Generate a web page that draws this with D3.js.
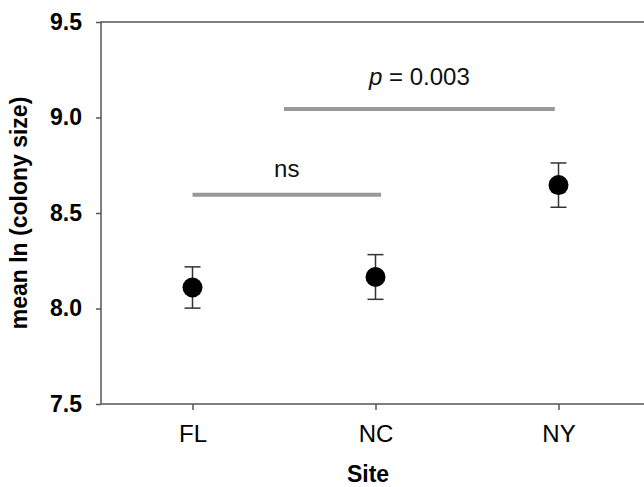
<!DOCTYPE html>
<html>
<head>
<meta charset="utf-8">
<script src="https://cdn.jsdelivr.net/npm/d3@7"></script>
<style>
  body { margin: 0; background: #fff; }
  svg { display: block; font-family: "Liberation Sans", Arial, sans-serif; }
</style>
</head>
<body>
<div id="chart"></div>
<script>
// data
const sites = ["FL", "NC", "NY"];
const means = [8.11, 8.165, 8.646];
const errors = [0.108, 0.117, 0.116];
const yTicks = [7.5, 8.0, 8.5, 9.0, 9.5];

// significance brackets: from index, to index, y value, label
const brackets = [
    { x0: 0, x1: 1.03, y: 8.595, label: "ns" },
    { x0: 0.5, x1: 1.98, y: 9.045, label: "p = 0.003" }
];

const width = 644, height = 487;
const plotLeft = 101, plotRight = 650, plotTop = 22, plotBottom = 404;
const labelGap = [18, 24]; // text baseline above each bracket line

const svg = d3.select("#chart").append("svg")
    .attr("width", width)
    .attr("height", height);

const x = d3.scaleLinear().domain([-0.5, 2.5]).range([plotLeft, plotRight]);
const y = d3.scaleLinear().domain([7.5, 9.5]).range([plotBottom, plotTop]);

const axisColor = "#555";

// frame
svg.append("rect")
    .attr("x", plotLeft)
    .attr("y", plotTop)
    .attr("width", plotRight - plotLeft)
    .attr("height", plotBottom - plotTop)
    .attr("fill", "none")
    .attr("stroke", axisColor)
    .attr("stroke-width", 1.5);

// y axis
const yAxis = svg.append("g")
    .attr("transform", `translate(${plotLeft},0)`)
    .call(d3.axisLeft(y).tickValues(yTicks).tickFormat(d3.format(".1f")).tickSize(5).tickPadding(14));
yAxis.select(".domain").remove();
yAxis.selectAll("line").attr("stroke", axisColor).attr("stroke-width", 1.5);
yAxis.selectAll("text")
    .attr("font-family", "Liberation Sans, Arial, sans-serif")
    .attr("font-size", 23)
    .attr("font-weight", "bold")
    .attr("fill", "#000");

// x axis
const xAxis = svg.append("g")
    .attr("transform", `translate(0,${plotBottom})`)
    .call(d3.axisBottom(x).tickValues(d3.range(sites.length)).tickFormat(i => sites[i]).tickSize(6).tickPadding(15));
xAxis.select(".domain").remove();
xAxis.selectAll("line").attr("stroke", axisColor).attr("stroke-width", 1.5);
xAxis.selectAll("text")
    .attr("font-family", "Liberation Sans, Arial, sans-serif")
    .attr("font-size", 24)
    .attr("fill", "#000");

// axis titles
svg.append("text")
    .attr("x", 368)
    .attr("y", 482)
    .attr("text-anchor", "middle")
    .attr("font-size", 23)
    .attr("font-weight", "bold")
    .text("Site");

svg.append("text")
    .attr("transform", `translate(27,${(plotTop + plotBottom) / 2}) rotate(-90)`)
    .attr("text-anchor", "middle")
    .attr("font-size", 23)
    .attr("font-weight", "bold")
    .text("mean ln (colony size)");

// significance lines
svg.selectAll(".bracket")
    .data(brackets)
    .join("line")
    .attr("x1", d => x(d.x0))
    .attr("x2", d => x(d.x1))
    .attr("y1", d => y(d.y))
    .attr("y2", d => y(d.y))
    .attr("stroke", "#999")
    .attr("stroke-width", 4);

const labels = svg.selectAll(".blabel")
    .data(brackets)
    .join("text")
    .attr("x", d => (x(d.x0) + x(d.x1)) / 2)
    .attr("y", (d, i) => y(d.y) - labelGap[i])
    .attr("text-anchor", "middle")
    .attr("font-size", 24)
    .attr("fill", "#111");
labels.each(function (d) {
    const t = d3.select(this);
    if (d.label.startsWith("p ")) {
        t.append("tspan").attr("font-style", "italic").text("p");
        t.append("tspan").text(d.label.slice(1));
    } else {
        t.text(d.label);
    }
});

// error bars
const capW = 8;
const bars = svg.selectAll(".err")
    .data(sites.map((s, i) => ({ i, m: means[i], e: errors[i] })))
    .join("g")
    .attr("stroke", "#333")
    .attr("stroke-width", 1.5);
bars.append("line")
    .attr("x1", d => x(d.i)).attr("x2", d => x(d.i))
    .attr("y1", d => y(d.m - d.e)).attr("y2", d => y(d.m + d.e));
bars.append("line")
    .attr("x1", d => x(d.i) - capW).attr("x2", d => x(d.i) + capW)
    .attr("y1", d => y(d.m + d.e)).attr("y2", d => y(d.m + d.e));
bars.append("line")
    .attr("x1", d => x(d.i) - capW).attr("x2", d => x(d.i) + capW)
    .attr("y1", d => y(d.m - d.e)).attr("y2", d => y(d.m - d.e));

// points
svg.selectAll(".pt")
    .data(means)
    .join("circle")
    .attr("cx", (d, i) => x(i))
    .attr("cy", d => y(d))
    .attr("r", 10)
    .attr("fill", "#000");
</script>
</body>
</html>
